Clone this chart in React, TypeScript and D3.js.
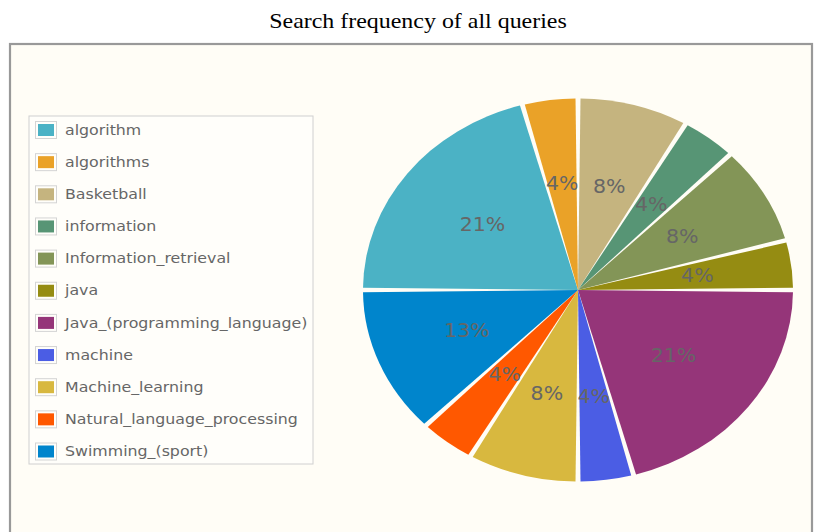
import React from "react";
import * as d3 from "d3";

const categories: string[] = [
  "algorithm",
  "algorithms",
  "Basketball",
  "information",
  "Information_retrieval",
  "java",
  "Java_(programming_language)",
  "machine",
  "Machine_learning",
  "Natural_language_processing",
  "Swimming_(sport)",
];
const counts: number[] = [5, 1, 2, 1, 2, 1, 5, 1, 2, 1, 3];
const colors: string[] = [
  "#4bb2c5", "#EAA228", "#c5b47f", "#579575", "#839557", "#958c12",
  "#953579", "#4b5de4", "#d8b83f", "#ff5800", "#0085cc",
];
const title = "Search frequency of all queries";

const W = 816;
const H = 532;
const cx = 578;
const cy = 290;
const rx = 215;
const ry = 191.5;
const gap = 5;

export default function App() {
  const data = categories.map((c, i) => ({ name: c, value: counts[i], color: colors[i] }));
  const total = d3.sum(counts);
  const pie = d3
    .pie<any>()
    .sort(null)
    .value((d: any) => d.value)
    .startAngle(-Math.PI / 2)
    .endAngle((3 * Math.PI) / 2);
  const arcs = pie(data);
  const arc = d3
    .arc<any>()
    .innerRadius(0)
    .outerRadius(rx)
    .padAngle(gap / rx)
    .padRadius(rx);

  const yScale = ry / rx;
  const fmt = d3.format(".0%");

  const legendY = d3.scaleLinear().domain([0, categories.length - 1]).range([130, 451.5]);

  return (
    <svg width={W} height={H} style={{ position: "absolute", left: 0, top: 0 }}>
      <rect x={0} y={0} width={W} height={H} fill="#ffffff" />
      <text
        transform={`translate(418,28) scale(1.14,1)`}
        textAnchor="middle"
        fontFamily="'Liberation Serif', 'Times New Roman', serif"
        fontSize={21}
        fill="#000"
      >
        {title}
      </text>
      <rect x={10} y={44} width={802} height={520} fill="#fffdf6" stroke="#999" strokeWidth={2.2} />

      <g transform={`translate(${cx},${cy}) scale(1,${yScale})`}>
        {arcs.map((a, i) => (
          <path key={i} d={arc(a) as string} fill={a.data.color} />
        ))}
      </g>
      {arcs.map((a, i) => {
        const mid = (a.startAngle + a.endAngle) / 2;
        const f = 0.56;
        const x = cx + Math.sin(mid) * rx * f;
        const y = cy - Math.cos(mid) * ry * f;
        return (
          <text
            key={"l" + i}
            transform={`translate(${x},${y}) scale(1.08,1)`}
            textAnchor="middle"
            dominantBaseline="central"
            fontFamily="'DejaVu Sans', sans-serif"
            fontSize={19}
            fill="#666"
          >
            {fmt(a.data.value / total)}
          </text>
        );
      })}

      <rect x={29} y={116} width={284} height={348} fill="#fffefa" stroke="#d0d0d0" strokeWidth={1} />
      {data.map((d, i) => {
        const y = legendY(i);
        return (
          <g key={"g" + i}>
            <rect x={35.5} y={y - 8.5} width={21} height={17} fill="none" stroke="#d4d4d4" strokeWidth={1} />
            <rect x={38} y={y - 6} width={16} height={12} fill={d.color} />
            <text
              transform={`translate(65,${y}) scale(1.13,1)`}
              dominantBaseline="central"
              fontFamily="'DejaVu Sans', sans-serif"
              fontSize={14}
              fill="#666"
            >
              {d.name}
            </text>
          </g>
        );
      })}
    </svg>
  );
}
